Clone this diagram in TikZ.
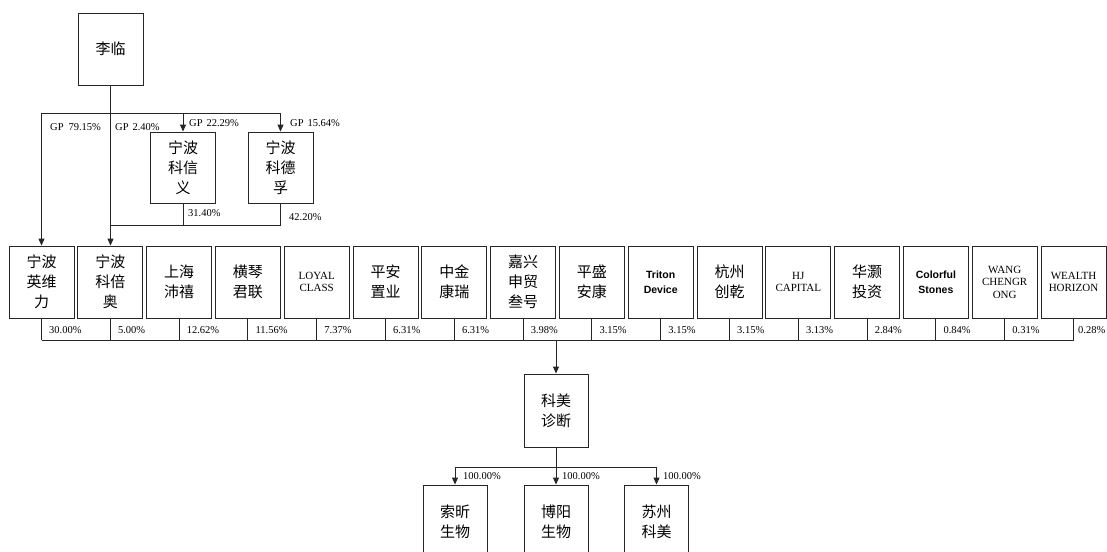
\documentclass[tikz,border=0pt]{standalone}
\usepackage{fontspec}
\setmainfont{Liberation Serif}
\newfontfamily\cjk{Noto Sans CJK SC}
\newfontfamily\sansf{Liberation Sans}
\usetikzlibrary{arrows.meta,calc}
\begin{document}
\begin{tikzpicture}[x=1pt,y=-1pt,
 ln/.style={draw=black!85, line width=0.9pt},
 arr/.style={ln, -{Triangle[length=7pt,width=6pt]}},
 box/.style={ln, fill=white, minimum width=65pt, minimum height=72pt, inner sep=0pt, align=center, font=\cjk\fontsize{15}{20}\selectfont},
 ebox/.style={box, font=\fontsize{11}{12.5}\selectfont},
 sbox/.style={box, font=\sansf\bfseries\fontsize{10.5}{15}\selectfont},
 lab/.style={anchor=west, inner sep=0pt, font=\fontsize{10.5}{12}\selectfont}]
\fill[white] (0,0) rectangle (1107,551);
\path[use as bounding box] (0,0) rectangle (1107,551);
\clip (0,0) rectangle (1107,551);

% top
\node[box] (li) at (110.5,49) {李临};
\node[box, minimum height=71pt] (xy) at (183,167.5) {宁波\\科信\\义};
\node[box, minimum height=71pt] (df) at (280.5,167.5) {宁波\\科德\\孚};

% row
\node[box] (r1) at (41.5,282) {宁波\\英维\\力};
\node[box] (r2) at (110.3,282) {宁波\\科倍\\奥};
\node[box] (r3) at (179.1,282) {上海\\沛禧};
\node[box] (r4) at (247.9,282) {横琴\\君联};
\node[ebox] (r5) at (316.7,282) {LOYAL\\CLASS};
\node[box] (r6) at (385.5,282) {平安\\置业};
\node[box] (r7) at (454.3,282) {中金\\康瑞};
\node[box] (r8) at (523.1,282) {嘉兴\\申贸\\叁号};
\node[box] (r9) at (591.9,282) {平盛\\安康};
\node[sbox] (r10) at (660.7,282) {Triton\\Device};
\node[box] (r11) at (729.5,282) {杭州\\创乾};
\node[ebox] (r12) at (798.3,282) {HJ\\CAPITAL};
\node[box] (r13) at (867.1,282) {华灏\\投资};
\node[sbox] (r14) at (935.9,282) {Colorful\\Stones};
\node[ebox] (r15) at (1004.7,282) {WANG\\CHENGR\\ONG};
\node[ebox] (r16) at (1073.5,282) {WEALTH\\HORIZON};

% lower
\node[box, minimum width=64pt, minimum height=73pt] (km) at (556,410.5) {科美\\诊断};
\node[box, minimum width=64pt, minimum height=74pt] (sx) at (455,522) {索昕\\生物};
\node[box, minimum width=64pt, minimum height=74pt] (by) at (556,522) {博阳\\生物};
\node[box, minimum width=64pt, minimum height=74pt] (sz) at (656.5,522) {苏州\\科美};

% top connectors
\coordinate (j1) at (110.5,113);
\coordinate (j2) at (110.5,225);
\draw[arr] (li.south) -- (li.south |- r2.north);
\draw[arr] (j1) -| (r1.north);
\draw[arr] (j1) -| (df.north);
\draw[arr] (xy.north |- j1) -- (xy.north);
\draw[ln] (xy.south) |- (j2);
\draw[ln] (df.south) |- (j2);

\node[lab] (g1) at (50,127) {GP\hspace{5pt}79.15\%};
\node[lab] (g2) at (115,127) {GP\hspace{4pt}2.40\%};
\node[lab] (g3) at (189,123) {GP\hspace{4pt}22.29\%};
\node[lab] (g4) at (290,123) {GP\hspace{4pt}15.64\%};
\node[lab] (g5) at (188,213) {31.40\%};
\node[lab] (g6) at (289,217) {42.20\%};

% row bus
\coordinate (busy) at (0,340);
\coordinate (laby) at (0,330);
\foreach \i in {1,...,16}{
  \draw[ln] (r\i.south) -- (r\i.south |- busy);
}
\draw[ln] (r1.south |- busy) -- (r16.south |- busy);
\foreach \i/\p/\d in {1/30.00/7.5,2/5.00/7.5,3/12.62/7.5,4/11.56/7.5,5/7.37/7.5,6/6.31/7.5,7/6.31/7.5,8/3.98/7.5,9/3.15/7.5,10/3.15/7.5,11/3.15/7.5,12/3.13/7.5,13/2.84/7.5,14/0.84/7.5,15/0.31/7.5,16/0.28/4.5}{
  \node[lab] (pl\i) at ($(r\i.south |- laby)+(\d,0)$) {\p\%};
}
\draw[arr] (km.north |- busy) -- (km.north);

% lower connectors
\coordinate (j3) at (556,467);
\draw[ln] (km.south) -- (j3);
\draw[ln] (sx.north |- j3) -- (sz.north |- j3);
\draw[arr] (sx.north |- j3) -- (sx.north);
\draw[arr] (by.north |- j3) -- (by.north);
\draw[arr] (sz.north |- j3) -- (sz.north);
\node[lab] (h1) at (463,476) {100.00\%};
\node[lab] (h2) at (562,476) {100.00\%};
\node[lab] (h3) at (663,476) {100.00\%};
\end{tikzpicture}
\end{document}
